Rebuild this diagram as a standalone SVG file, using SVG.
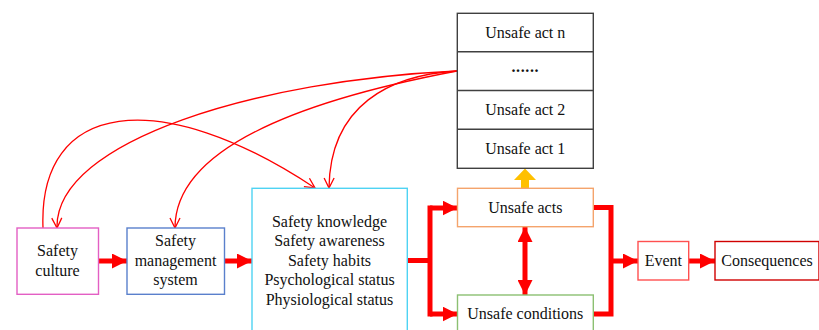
<svg xmlns="http://www.w3.org/2000/svg" width="819" height="330" viewBox="0 0 819 330">
<defs>
<style>
text{font-family:"Liberation Serif","Times New Roman",serif;font-size:16px;fill:#111;text-anchor:middle}
.box{fill:#fff;stroke-width:1.4}
.thin{fill:none;stroke:#ff0000;stroke-width:1.3;marker-end:url(#vhead)}
.thick{fill:none;stroke:#ff0000;stroke-width:5}
.arr{marker-end:url(#tri)}
</style>
<marker id="vhead" viewBox="0 0 12 12" refX="11" refY="6" markerWidth="12" markerHeight="12" markerUnits="userSpaceOnUse" orient="auto">
<path d="M1,1 L11,6 L1,11" fill="none" stroke="#ff0000" stroke-width="1.3"/>
</marker>
<marker id="tri" viewBox="0 0 15 15" refX="15" refY="7.5" markerWidth="15" markerHeight="15" markerUnits="userSpaceOnUse" orient="auto-start-reverse">
<path d="M0,0 L15,7.5 L0,15 Z" fill="#ff0000"/>
</marker>
</defs>

<g id="connectors">
<path class="thin" d="M457,71 C260,80 55,140 57,228"/>
<path class="thin" d="M457,71 C330,95 175,140 175,228"/>
<path class="thin" d="M457,71 C390,75 330,105 329,188"/>
<path class="thin" d="M43,228 C38,100 160,85 315,188"/>
<path class="thick arr" d="M98.5,261 H127"/>
<path class="thick arr" d="M224.5,261 H252"/>
<path class="thick" d="M407,260.5 H430"/>
<path class="thick" stroke-linecap="square" d="M430,208 V314"/>
<path class="thick arr" d="M430,208 H457.5"/>
<path class="thick arr" d="M430,314 H457.5"/>
<path class="thick" stroke-linecap="square" d="M593,207.5 H611 V314 H593"/>
<path class="thick arr" d="M611,261 H638"/>
<path class="thick arr" d="M688.5,261 H715"/>
<path class="thick" d="M525,227 V295" marker-start="url(#tri)" marker-end="url(#tri)"/>
<path d="M521,188 V180 H514 L525,168.5 L536,180 H529 V188 Z" fill="#ffc000"/>
</g>

<g id="safety-culture">
<rect class="box" x="17" y="228" width="81.5" height="66.3" stroke="#e35fc4"/>
<text x="57.5" y="256">Safety</text>
<text x="57.5" y="275.5">culture</text>
</g>

<g id="safety-management-system">
<rect class="box" x="127" y="228" width="97.5" height="66.3" stroke="#5a80cc"/>
<text x="175.5" y="246">Safety</text>
<text x="175.5" y="265.5">management</text>
<text x="175.5" y="285">system</text>
</g>

<g id="personal-factors">
<rect class="box" x="252" y="188.3" width="155.3" height="146" stroke="#4fd3f3"/>
<text x="329.5" y="226.7">Safety knowledge</text>
<text x="329.5" y="246.2">Safety awareness</text>
<text x="329.5" y="265.7">Safety habits</text>
<text x="329.5" y="285.2">Psychological status</text>
<text x="329.5" y="304.7">Physiological status</text>
</g>

<g id="unsafe-act-stack">
<rect class="box" x="457.3" y="13.3" width="136" height="155" stroke="#404040"/>
<path d="M457.3,51.8 H593.3 M457.3,90.5 H593.3 M457.3,129.3 H593.3" stroke="#404040" stroke-width="1.4" fill="none"/>
<text x="525.3" y="37.5">Unsafe act n</text>
<text x="525.3" y="71.5" font-weight="bold" letter-spacing="0.6">......</text>
<text x="525.3" y="115">Unsafe act 2</text>
<text x="525.3" y="154">Unsafe act 1</text>
</g>

<g id="unsafe-acts">
<rect class="box" x="457.5" y="188.3" width="135.8" height="38.4" stroke="#f4a46c"/>
<text x="525.3" y="212.7">Unsafe acts</text>
</g>

<g id="unsafe-conditions">
<rect class="box" x="457.5" y="295" width="135.8" height="39" stroke="#8cc072"/>
<text x="525.3" y="319.3">Unsafe conditions</text>
</g>

<g id="event">
<rect class="box" x="638" y="241.5" width="50.7" height="38.5" stroke="#ff5050"/>
<text x="663.3" y="266">Event</text>
</g>

<g id="consequences">
<rect class="box" x="715" y="241.5" width="104" height="38.5" stroke="#d00000"/>
<text x="767" y="266">Consequences</text>
</g>
</svg>
